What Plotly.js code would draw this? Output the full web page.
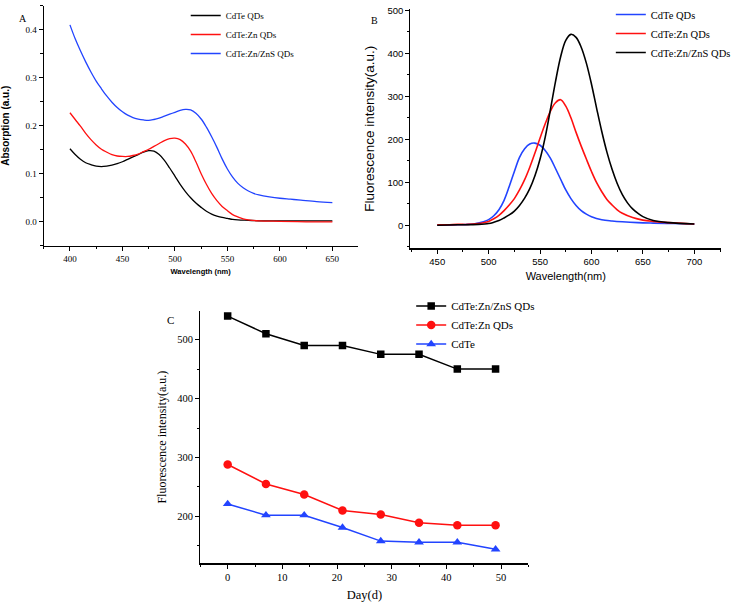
<!DOCTYPE html>
<html>
<head>
<meta charset="utf-8">
<script src="https://cdn.plot.ly/plotly-3.0.1.min.js"></script>
<style>html,body{margin:0;padding:0;background:#fff;}#chart{width:736px;height:603px;}</style>
</head>
<body>
<div id="chart"></div>
<script>
// ---------- Panel A: absorption spectra ----------
const absBlackWl = [400,405,410,415,420,425,430,435,440,445,450,455,460,465,470,475,480,485,490,495,500,505,510,515,520,525,530,535,540,545,550,555,560,570,580,600,625,650];
const absBlackVal = [0.152,0.140,0.130,0.123,0.119,0.116,0.115,0.116,0.118,0.121,0.125,0.130,0.135,0.140,0.145,0.148,0.147,0.140,0.128,0.112,0.095,0.078,0.063,0.050,0.039,0.030,0.022,0.016,0.012,0.009,0.007,0.005,0.004,0.003,0.002,0.002,0.002,0.002];
const absRedWl = [400,405,410,415,420,425,430,435,440,445,450,455,460,465,470,475,480,485,490,495,500,505,510,515,520,525,530,535,540,545,550,555,560,565,570,580,600,625,650];
const absRedVal = [0.227,0.213,0.199,0.184,0.171,0.160,0.151,0.145,0.140,0.137,0.136,0.136,0.138,0.141,0.146,0.151,0.157,0.163,0.169,0.173,0.174,0.171,0.162,0.147,0.125,0.100,0.078,0.059,0.044,0.032,0.023,0.015,0.010,0.006,0.004,0.002,0.001,0.000,0.000];
const absBlueWl = [400,405,410,415,420,425,430,435,440,445,450,455,460,465,470,475,480,485,490,495,500,505,510,515,520,525,530,535,540,545,550,555,560,565,570,575,580,590,600,610,620,635,650];
const absBlueVal = [0.410,0.381,0.356,0.333,0.312,0.293,0.277,0.262,0.249,0.238,0.229,0.222,0.217,0.214,0.212,0.211,0.213,0.216,0.220,0.224,0.228,0.232,0.234,0.233,0.226,0.214,0.197,0.177,0.155,0.131,0.110,0.093,0.080,0.071,0.064,0.059,0.056,0.052,0.049,0.047,0.045,0.042,0.040];
const absNames = ['CdTe QDs','CdTe:Zn QDs','CdTe:Zn/ZnS QDs'];

// ---------- Panel B: fluorescence spectra ----------
const flBlueWl = [450,460,470,480,485,490,495,500,505,510,515,520,525,530,535,540,545,550,555,560,565,570,575,580,585,590,595,600,610,620,630,645,660,680,700];
const flBlueVal = [0,0,1,2,3,5,8,13,22,36,58,90,125,158,178,189,191,186,174,156,132,107,82,62,46,34,26,20,13,10,8,6,5,4,3];
const flRedWl = [450,460,470,480,490,495,500,505,510,515,520,525,530,535,540,545,550,555,560,565,570,575,580,585,590,595,600,605,610,615,620,625,630,640,650,660,675,700];
const flRedVal = [1,1,2,2,4,6,9,15,23,34,47,62,82,106,135,168,203,236,265,285,292,277,250,216,184,154,125,99,78,60,47,36,28,18,12,9,6,3];
const flBlackWl = [450,470,490,500,505,510,515,520,525,530,535,540,545,550,555,560,565,570,575,580,585,590,595,600,605,610,615,620,625,630,635,640,645,650,660,675,700];
const flBlackVal = [0,1,2,4,7,11,17,24,33,46,63,85,115,154,205,268,334,392,430,444,437,414,377,328,272,218,170,130,97,71,52,38,28,20,11,6,3];
const flNames = ['CdTe QDs','CdTe:Zn QDs','CdTe:Zn/ZnS QDs'];

// ---------- Panel C: stability over days ----------
const days = [0,7,14,21,28,35,42,49];
const stabZnS = [540,510,490,490,475,475,450,450];
const stabZn = [288,255,237,210,203,189,185,185];
const stabCdTe = [221,202,202,181,158,156,156,144];
const stabNames = ['CdTe:Zn/ZnS QDs','CdTe:Zn QDs','CdTe'];

const BLACK = '#000000', RED = '#ff1010', BLUE = '#2244ff';
const SERIF = 'Liberation Serif, Times New Roman, serif';
const SANS = 'Liberation Sans, Arial, sans-serif';

const traces = [
  {x: absBlackWl, y: absBlackVal, name: absNames[0], mode: 'lines', line: {color: BLACK, width: 1.3, shape: 'spline', smoothing: 1}, xaxis: 'x', yaxis: 'y', legend: 'legend'},
  {x: absRedWl, y: absRedVal, name: absNames[1], mode: 'lines', line: {color: RED, width: 1.3, shape: 'spline', smoothing: 1}, xaxis: 'x', yaxis: 'y', legend: 'legend'},
  {x: absBlueWl, y: absBlueVal, name: absNames[2], mode: 'lines', line: {color: BLUE, width: 1.3, shape: 'spline', smoothing: 1}, xaxis: 'x', yaxis: 'y', legend: 'legend'},

  {x: flBlueWl, y: flBlueVal, name: flNames[0], mode: 'lines', line: {color: BLUE, width: 1.6, shape: 'spline', smoothing: 1}, xaxis: 'x2', yaxis: 'y2', legend: 'legend2'},
  {x: flRedWl, y: flRedVal, name: flNames[1], mode: 'lines', line: {color: RED, width: 1.6, shape: 'spline', smoothing: 1}, xaxis: 'x2', yaxis: 'y2', legend: 'legend2'},
  {x: flBlackWl, y: flBlackVal, name: flNames[2], mode: 'lines', line: {color: BLACK, width: 1.6, shape: 'spline', smoothing: 1}, xaxis: 'x2', yaxis: 'y2', legend: 'legend2'},

  {x: days, y: stabZnS, name: stabNames[0], mode: 'lines+markers', line: {color: BLACK, width: 1.5}, marker: {symbol: 'square', size: 7.5, color: BLACK}, xaxis: 'x3', yaxis: 'y3', legend: 'legend3'},
  {x: days, y: stabZn, name: stabNames[1], mode: 'lines+markers', line: {color: RED, width: 1.5}, marker: {symbol: 'circle', size: 8.5, color: RED}, xaxis: 'x3', yaxis: 'y3', legend: 'legend3'},
  {x: days, y: stabCdTe, name: stabNames[2], mode: 'lines+markers', line: {color: BLUE, width: 1.5}, marker: {symbol: 'triangle-up', size: 8.5, color: BLUE}, xaxis: 'x3', yaxis: 'y3', legend: 'legend3'}
];

const W = 736, H = 603;
const px = v => v / W;
const py = v => 1 - v / H;

function axisBase(extra) {
  return Object.assign({
    showline: true, linecolor: '#000', linewidth: 1.2, mirror: false,
    ticks: 'outside', ticklen: 4, tickwidth: 1, tickcolor: '#000',
    showgrid: false, zeroline: false, fixedrange: true, automargin: false
  }, extra);
}

const layout = {
  width: W, height: H,
  margin: {l: 0, r: 0, t: 0, b: 0, pad: 0},
  paper_bgcolor: '#fff', plot_bgcolor: 'rgba(0,0,0,0)',
  showlegend: true,
  xaxis: axisBase({domain: [px(44), px(360)], range: [375, 674], anchor: 'y', dtick: 50, tick0: 0,
    minor: {ticks: 'outside', ticklen: 2.5, dtick: 25, tick0: 0, tickcolor: '#000'},
    tickfont: {family: SERIF, size: 9, color: '#000'},
    title: {text: 'Wavelength (nm)', font: {family: SANS, size: 7.5, weight: 'bold', color: '#000'}, standoff: 6}}),
  yaxis: axisBase({domain: [py(244), py(2.7)], range: [-0.05, 0.45], anchor: 'x', dtick: 0.1, tick0: 0, tickformat: '.1f',
    minor: {ticks: 'outside', ticklen: 2.5, dtick: 0.05, tick0: 0, tickcolor: '#000'},
    tickfont: {family: SERIF, size: 9, color: '#000'},
    title: {text: 'Absorption (a.u.)', font: {family: SANS, size: 10, weight: 'bold', color: '#000'}, standoff: 14}}),

  xaxis2: axisBase({domain: [px(413.3), px(726)], range: [424, 726], anchor: 'y2', dtick: 50, tick0: 0,
    minor: {ticks: 'outside', ticklen: 2.5, dtick: 25, tick0: 0, tickcolor: '#000'},
    tickfont: {family: SANS, size: 9.5, color: '#000'},
    title: {text: 'Wavelength(nm)', font: {family: SANS, size: 11, color: '#000'}, standoff: 6}}),
  yaxis2: axisBase({domain: [py(246.7), py(6)], range: [-54, 503], anchor: 'x2', dtick: 100, tick0: 0,
    minor: {ticks: 'outside', ticklen: 2.5, dtick: 50, tick0: 0, tickcolor: '#000'},
    tickfont: {family: SANS, size: 9.5, color: '#000'},
    title: {text: 'Fluorescence intensity(a.u.)', font: {family: SANS, size: 13.5, color: '#000'}, standoff: 9}}),

  xaxis3: axisBase({domain: [px(201.7), px(532)], range: [-5, 55], anchor: 'y3', dtick: 10, tick0: 0,
    minor: {ticks: 'outside', ticklen: 2.5, dtick: 5, tick0: 0, tickcolor: '#000'},
    tickfont: {family: SERIF, size: 10.5, color: '#000'},
    title: {text: 'Day(d)', font: {family: SERIF, size: 12.5, color: '#000'}, standoff: 8}}),
  yaxis3: axisBase({domain: [py(563.3), py(309.3)], range: [120, 549], anchor: 'x3', dtick: 100, tick0: 0,
    minor: {ticks: 'outside', ticklen: 2.5, dtick: 50, tick0: 0, tickcolor: '#000'},
    tickfont: {family: SERIF, size: 10.5, color: '#000'},
    title: {text: 'Fluorescence intensity(a.u.)', font: {family: SERIF, size: 12, color: '#000'}, standoff: 8}}),

  legend: {x: px(187), y: py(-2), xanchor: 'left', yanchor: 'top', bgcolor: 'rgba(0,0,0,0)', borderwidth: 0,
    font: {family: SERIF, size: 9, color: '#000'}, traceorder: 'normal'},
  legend2: {x: px(615), y: py(-3), xanchor: 'left', yanchor: 'top', bgcolor: 'rgba(0,0,0,0)', borderwidth: 0,
    font: {family: SERIF, size: 10.5, color: '#000'}, traceorder: 'normal'},
  legend3: {x: px(414), y: py(290), xanchor: 'left', yanchor: 'top', bgcolor: 'rgba(0,0,0,0)', borderwidth: 0,
    font: {family: SERIF, size: 11, color: '#000'}, traceorder: 'normal'},

  annotations: [
    {text: 'A', x: px(17), y: py(8), xref: 'paper', yref: 'paper', showarrow: false, font: {family: SERIF, size: 10, color: '#000'}},
    {text: 'B', x: px(377), y: py(10), xref: 'paper', yref: 'paper', showarrow: false, font: {family: SERIF, size: 10, color: '#000'}},
    {text: 'C', x: px(166), y: py(318.5), xref: 'paper', yref: 'paper', showarrow: false, font: {family: SERIF, size: 11, color: '#000'}}
  ]
};

Plotly.newPlot('chart', traces, layout, {displayModeBar: false, staticPlot: true});
</script>
</body>
</html>
